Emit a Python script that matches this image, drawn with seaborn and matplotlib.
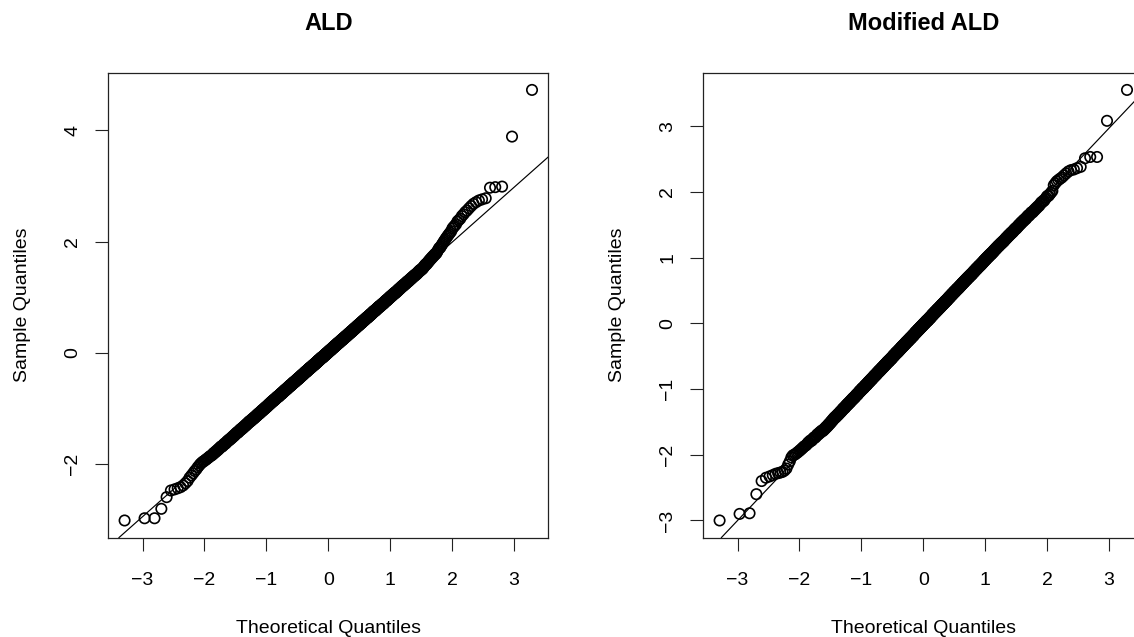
import numpy as np
import pandas as pd
import matplotlib
matplotlib.use("Agg")
import matplotlib.pyplot as plt
import seaborn as sns
from statistics import NormalDist

# Residuals of the two models (n = 1000 each).
# Extreme residuals are listed one by one; the bulk is stored as counts of
# residuals falling in consecutive 0.025-wide bins (value = bin centre).
BIN_WIDTH = 0.025

ald_low_tail = [-3.02, -2.98, -2.98, -2.81, -2.60, -2.48, -2.46, -2.44, -2.42, -2.39,
                -2.35, -2.31, -2.25, -2.21, -2.17, -2.13, -2.10, -2.06, -2.03, -2.00,
                -1.98, -1.96, -1.95, -1.93, -1.92, -1.90, -1.89, -1.87, -1.86, -1.85, -1.84]
ald_bin_start = -1.8125
ald_bin_counts = [2, 2, 2, 2, 2, 3, 2, 3, 2, 3, 3, 3, 3, 3, 3, 4, 3, 4, 4, 4,
                  4, 4, 4, 5, 5, 5, 5, 5, 5, 6, 5, 6, 6, 6, 6, 6, 6, 7, 7, 7,
                  7, 8, 7, 8, 7, 8, 8, 8, 8, 9, 8, 9, 9, 9, 9, 9, 9, 9, 9, 10,
                  9, 10, 10, 10, 10, 10, 9, 10, 10, 11, 10, 10,
                  10, 10, 10, 10, 10, 10, 10, 10, 10, 10, 10, 10, 10, 9, 10, 9,
                  10, 9, 9, 9, 9, 9, 9, 8, 9, 8, 9, 8, 8, 7, 8, 8, 7, 7, 8, 7,
                  7, 6, 7, 6, 6, 6, 6, 6, 6, 5, 5, 5, 5, 5, 5, 4, 5, 4, 4, 4,
                  4, 4, 3, 3, 4, 3,
                  2, 2, 3, 2, 2, 2, 2, 2, 2, 2, 2, 1, 1, 1, 2, 1, 1, 1, 1, 1,
                  1, 1, 1, 1, 1, 1, 1, 0, 1, 1, 1, 1, 0, 1, 1, 1]
ald_high_tail = [2.46, 2.49, 2.53, 2.56, 2.60, 2.64, 2.68, 2.71, 2.74, 2.76, 2.78,
                 2.97, 2.98, 2.99, 3.89, 4.73]
ald_qqline = (0.013, 0.988)  # intercept, slope

mod_low_tail = [-3.00, -2.90, -2.89, -2.60, -2.40, -2.35, -2.33, -2.31, -2.29, -2.28,
                -2.27, -2.26, -2.24, -2.21, -2.15, -2.10, -2.04, -2.01, -2.00, -1.99,
                -1.97, -1.96, -1.94, -1.93, -1.91, -1.90, -1.88, -1.87, -1.86, -1.85, -1.83]
mod_bin_start = -1.8125
mod_bin_counts = [2, 3, 2, 3, 2, 3, 3, 4, 3, 3, 3, 3, 3, 3, 3, 4, 4, 4, 4, 4,
                  4, 5, 4, 5, 5, 5, 5, 6, 5, 6, 5, 6, 6, 7, 6, 7, 6, 7, 7, 7,
                  7, 8, 7, 8, 8, 8, 8, 8, 8, 9, 9, 9, 8, 9, 9, 10, 9, 9, 9, 10,
                  9, 10, 10, 10, 10, 10, 9, 10, 10, 10, 10, 10,
                  10, 10, 11, 10, 10, 9, 10, 10, 10, 10, 10, 9, 10, 9, 10, 9, 9, 9,
                  9, 9, 9, 9, 9, 8, 8, 8, 8, 8, 8, 8, 8, 7, 7, 7, 7, 7, 7, 6,
                  6, 6, 6, 6, 6, 6, 5, 5, 5, 5, 5, 5, 5, 4, 4, 4, 4, 4, 4, 3,
                  4, 3, 3, 3, 3, 3, 3, 2, 3, 2, 3, 2, 2, 2, 2, 1, 2, 2, 1, 1,
                  2, 1, 1, 1]
mod_high_tail = [2.10, 2.13, 2.16, 2.18, 2.20, 2.22, 2.25, 2.28, 2.31, 2.33, 2.34, 2.36,
                 2.38, 2.51, 2.53, 2.53, 3.08, 3.55]
mod_qqline = (-0.016, 0.995)

titles = ["ALD", "Modified ALD"]
x_ticks = [-3, -2, -1, 0, 1, 2, 3]
ald_y_ticks = [-2, 0, 2, 4]
mod_y_ticks = [-3, -2, -1, 0, 1, 2, 3]
x_label = "Theoretical Quantiles"
y_label = "Sample Quantiles"


def residuals(low, start, counts, high):
    centres = np.round(start + BIN_WIDTH * np.arange(len(counts)), 4)
    body = np.repeat(centres, counts)
    return np.sort(np.concatenate([low, body, high]))


def qq_frame(sample):
    n = len(sample)
    probs = (np.arange(1, n + 1) - 0.5) / n
    nd = NormalDist()
    theo = np.array([nd.inv_cdf(p) for p in probs])
    return pd.DataFrame({"theoretical": theo, "sample": sample})


def r_limits(v):
    lo, hi = float(np.min(v)), float(np.max(v))
    pad = 0.04 * (hi - lo)
    return lo - pad, hi + pad


sns.set_theme(style="ticks")
plt.rcParams["font.family"] = ["Liberation Sans", "DejaVu Sans"]
plt.rcParams["axes.unicode_minus"] = True
for key in ["text.color", "axes.labelcolor", "xtick.color", "ytick.color"]:
    plt.rcParams[key] = "black"

W, H = 1134, 637
fig = plt.figure(figsize=(W / 100, H / 100), dpi=100)
fig.patch.set_facecolor("white")

panels = [
    (residuals(ald_low_tail, ald_bin_start, ald_bin_counts, ald_high_tail), ald_qqline, ald_y_ticks),
    (residuals(mod_low_tail, mod_bin_start, mod_bin_counts, mod_high_tail), mod_qqline, mod_y_ticks),
]
lefts = [108.3, 703.3]
ax_w, ax_h, ax_bottom = 440.0, 465.0, 637 - 537.7

for left, title, (sample, (b0, b1), yt) in zip(lefts, titles, panels):
    ax = fig.add_axes([left / W, ax_bottom / H, ax_w / W, ax_h / H])
    df = qq_frame(sample)
    sns.scatterplot(data=df, x="theoretical", y="sample", ax=ax,
                    marker="o", s=56, facecolors="none", edgecolor="black",
                    linewidth=1.2, legend=False, zorder=3)
    ax.axline((0, b0), slope=b1, color="black", lw=0.85, zorder=2)

    ax.set_xlim(*r_limits(df["theoretical"]))
    ax.set_ylim(*r_limits(df["sample"]))
    ax.set_xticks(x_ticks)
    ax.set_yticks(yt)
    ax.set_facecolor("white")
    for sp in ax.spines.values():
        sp.set_visible(True)
        sp.set_linewidth(0.9)
        sp.set_color("#222222")
    ax.tick_params(axis="both", which="major", length=9.4, width=0.8,
                   color="#222222", labelsize=14, labelcolor="black",
                   direction="out", top=False, right=False)
    ax.tick_params(axis="x", pad=15)
    ax.tick_params(axis="y", pad=10, labelrotation=90)
    for lab in ax.get_yticklabels():
        lab.set_va("center")

    ax.set_title(title, fontsize=17, fontweight="bold", pad=31)
    ax.set_xlabel(x_label, fontsize=14)
    ax.set_ylabel(y_label, fontsize=14)
    ax.xaxis.set_label_coords(0.5, -0.178)
    ax.yaxis.set_label_coords(-0.175, 0.5)
    ax.grid(False)

fig.savefig("out.png", dpi=100, facecolor="white")
